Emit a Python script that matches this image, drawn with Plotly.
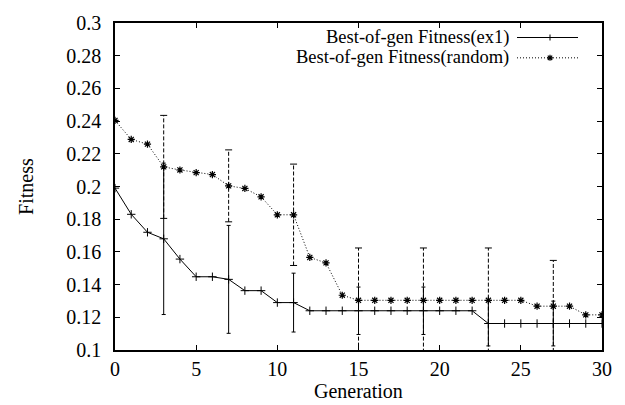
import plotly.graph_objects as go

generations = list(range(31))
fitness_ex1 = [0.199, 0.183, 0.172, 0.168, 0.1556, 0.1448, 0.1448, 0.1432, 0.1363, 0.1363,
               0.129, 0.129, 0.124, 0.124, 0.124, 0.124, 0.124, 0.124, 0.124, 0.124,
               0.124, 0.124, 0.124, 0.1162, 0.1162, 0.1162, 0.1162, 0.1162, 0.1162, 0.1162, 0.1162]
fitness_random = [0.2404, 0.2288, 0.2259, 0.212, 0.2101, 0.2085, 0.2073, 0.2004, 0.1988, 0.1937,
                  0.1827, 0.1827, 0.1566, 0.1533, 0.1335, 0.1304, 0.1304, 0.1304, 0.1304, 0.1304,
                  0.1304, 0.1304, 0.1304, 0.1304, 0.1304, 0.1304, 0.1268, 0.1268, 0.1268, 0.1215, 0.1215]
err_gens = [3, 7, 11, 15, 19, 23, 27]
err_ex1 = [0.0463, 0.033, 0.018, 0.0145, 0.0145, 0.0137, 0.0137]
err_random = [0.0315, 0.022, 0.031, 0.032, 0.032, 0.032, 0.028]
legend_labels = ["Best-of-gen Fitness(ex1)", "Best-of-gen Fitness(random)"]

FONT = "Liberation Serif"
BLACK = "#000000"

fig = go.Figure()

# ex1 error bars (solid)
fig.add_trace(go.Scatter(
    x=err_gens, y=[fitness_ex1[g] for g in err_gens], mode="markers",
    marker=dict(size=0.1, color="rgba(0,0,0,0)"),
    error_y=dict(type="data", array=err_ex1, visible=True, color=BLACK, thickness=1, width=2),
    showlegend=False, hoverinfo="skip"))

# random error bars (dashed)
ex, ey, cx, cy = [], [], [], []
for g, e in zip(err_gens, err_random):
    c = fitness_random[g]
    ex += [g, g, None]
    ey += [c - e, c + e, None]
    cx += [g, g]
    cy += [c - e, c + e]
fig.add_trace(go.Scatter(x=ex, y=ey, mode="lines",
                         line=dict(color=BLACK, width=1, dash="4px,2px"),
                         showlegend=False, hoverinfo="skip"))
fig.add_trace(go.Scatter(x=cx, y=cy, mode="markers",
                         marker=dict(symbol="line-ew-open", size=5, color=BLACK,
                                     line=dict(color=BLACK, width=1)),
                         showlegend=False, hoverinfo="skip", cliponaxis=True))

fig.add_trace(go.Scatter(
    x=generations, y=fitness_ex1, mode="lines+markers", name=legend_labels[0],
    line=dict(color=BLACK, width=1),
    marker=dict(symbol="cross-thin-open", size=6, color=BLACK, line=dict(color=BLACK, width=1)),
    showlegend=False))
fig.add_trace(go.Scatter(
    x=generations, y=fitness_random, mode="lines+markers", name=legend_labels[1],
    line=dict(color=BLACK, width=1, dash="1px,2px"),
    marker=dict(symbol="asterisk-open", size=6, color=BLACK, line=dict(color=BLACK, width=1.2)),
    showlegend=False))

# Custom legend (text right-aligned, sample on the right, gnuplot-style)
shapes = []
annotations = []
rows_y = [(350 - 27) / 338, (350 - 48) / 338]
dashes = ["solid", "1px,2px"]
mark_paths = ["M-3,0 L3,0 M0,-3 L0,3",
              "M-3,0 L3,0 M0,-3 L0,3 M-2.2,-2.2 L2.2,2.2 M-2.2,2.2 L2.2,-2.2"]
mark_w = [1, 1.2]
x_text = (511 - 115) / 487
x0s, x1s, xm = (517 - 115) / 487, (578 - 115) / 487, (550 - 115) / 487
for lbl, yy, d, p, w in zip(legend_labels, rows_y, dashes, mark_paths, mark_w):
    annotations.append(dict(text=lbl, x=x_text, y=yy, xref="paper", yref="paper",
                            xanchor="right", yanchor="middle", showarrow=False,
                            font=dict(family=FONT, size=18.5, color=BLACK)))
    shapes.append(dict(type="line", xref="paper", yref="paper", x0=x0s, x1=x1s,
                       y0=yy, y1=yy, line=dict(color=BLACK, width=1, dash=d)))
    shapes.append(dict(type="path", xref="paper", yref="paper", xsizemode="pixel",
                       ysizemode="pixel", xanchor=xm, yanchor=yy, path=p,
                       line=dict(color=BLACK, width=w)))

annotations.append(dict(text="Generation", x=0.5, y=-0.125, xref="paper", yref="paper",
                        xanchor="center", yanchor="middle", showarrow=False,
                        font=dict(family=FONT, size=20, color=BLACK)))
annotations.append(dict(text="Fitness", x=-0.184, y=0.5, xref="paper", yref="paper",
                        xanchor="center", yanchor="middle", showarrow=False, textangle=-90,
                        font=dict(family=FONT, size=20, color=BLACK)))

fig.update_layout(
    width=625, height=405,
    margin=dict(l=115, r=23, t=12, b=55, pad=0),
    paper_bgcolor="white", plot_bgcolor="white",
    font=dict(family=FONT, size=20, color=BLACK),
    shapes=shapes, annotations=annotations,
    xaxis=dict(range=[0, 30], dtick=5, tick0=0, ticks="inside", ticklen=5, tickwidth=1,
               tickcolor=BLACK, showline=True, linecolor=BLACK, linewidth=1.5, mirror="ticks",
               showgrid=False, zeroline=False, tickfont=dict(family=FONT, size=20, color=BLACK)),
    yaxis=dict(range=[0.1, 0.3], dtick=0.02, tick0=0.1, ticks="inside", ticklen=5, tickwidth=1,
               tickcolor=BLACK, showline=True, linecolor=BLACK, linewidth=1.5, mirror="ticks",
               showgrid=False, zeroline=False, ticklabelstandoff=8,
               tickfont=dict(family=FONT, size=20, color=BLACK)),
)

fig.write_html("out.html")
